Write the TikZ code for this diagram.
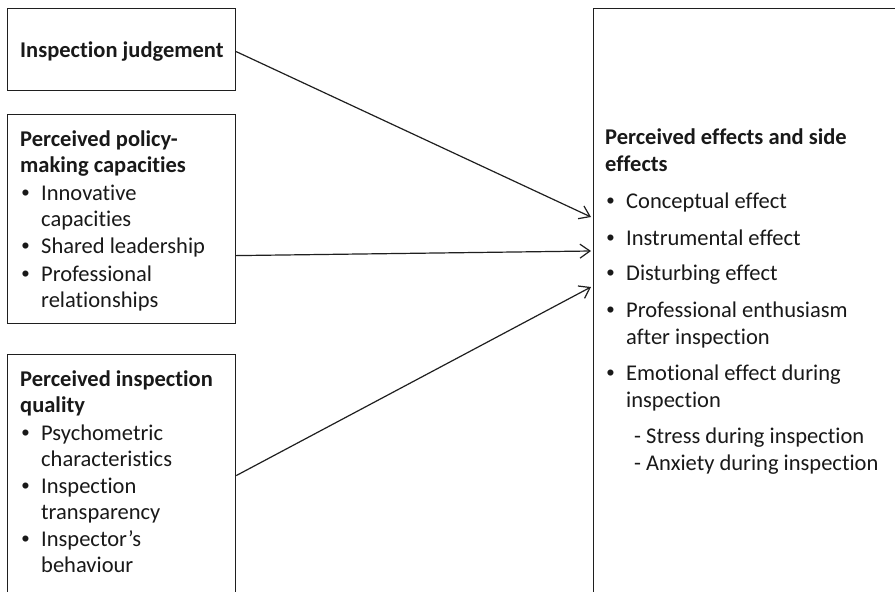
\documentclass[tikz,border=0pt]{standalone}
\usepackage{fontspec}
\setmainfont{Carlito}[Ligatures={NoCommon}]
\newfontfamily\bulfont{Liberation Sans}
\usetikzlibrary{arrows.meta}
\newcommand\mybul{\makebox[21pt][l]{\hspace*{1.5pt}{\bulfont •}}}
\newcommand\myind{\hspace*{21pt}}
\begin{document}
\begin{tikzpicture}[x=1pt,y=-1pt,
  box/.style={draw=black!88, line width=1.2pt, rectangle, inner sep=0pt, anchor=north west},
  txt/.style={anchor=base west, inner sep=0pt, text=black!90},
  arr/.style={draw=black!88, line width=1.2pt, -{Straight Barb[length=10pt,width=14pt,line width=1.2pt]}}]
\useasboundingbox[fill=white] (0,0) rectangle (895,592);

% boxes
\node[box, minimum width=228pt, minimum height=82pt] (b1) at (7,8) {};
\node[box, minimum width=228pt, minimum height=209pt] (b2) at (7,114) {};
\node[box, minimum width=228pt, minimum height=242pt] (b3) at (7,354) {};
\node[box, minimum width=320pt, minimum height=600pt] (rb) at (593,8) {};

% texts
\node[txt] (t1) at (20,57) {\fontsize{22.5}{26}\selectfont\bfseries Inspection judgement};

\node[txt] (t2) at (20,146.7) {\begin{minipage}[t]{214pt}\fontsize{22.5}{26}\selectfont
\textbf{Perceived policy-}\\
\textbf{making capacities}\\[1.3pt]
\mybul Innovative\\
\myind capacities\\[1.5pt]
\mybul Shared leadership\\[1.5pt]
\mybul Professional\\
\myind relationships
\end{minipage}};

\node[txt] (t3) at (20,386.7) {\begin{minipage}[t]{214pt}\fontsize{22.5}{26}\selectfont
\textbf{Perceived inspection}\\
\textbf{quality}\\[1.3pt]
\mybul Psychometric\\
\myind characteristics\\[1.3pt]
\mybul Inspection\\
\myind transparency\\[1.3pt]
\mybul Inspector’s\\
\myind behaviour
\end{minipage}};

\node[txt] (t4) at (605,144.6) {\begin{minipage}[t]{288pt}\fontsize{22.5}{27.2}\selectfont
\textbf{Perceived effects and side}\\
\textbf{effects}\\[9.5pt]
\mybul Conceptual effect\\[9.5pt]
\mybul Instrumental effect\\[8pt]
\mybul Disturbing effect\\[9.5pt]
\mybul Professional enthusiasm\\
\myind after inspection\\[9pt]
\mybul Emotional effect during\\
\myind inspection\\[8.5pt]
\hspace*{29pt}- Stress during inspection\\
\hspace*{29pt}- Anxiety during inspection
\end{minipage}};

% arrow end points at the effects box
\coordinate (e1) at (591,217);
\coordinate (e2) at (591,251);
\coordinate (e3) at (591,287);

\draw[arr] ([yshift=-2pt]b1.east) -- (e1);
\draw[arr] ([yshift=-36.5pt]b2.east) -- (e2);
\draw[arr] (b3.east) -- (e3);
\end{tikzpicture}
\end{document}
